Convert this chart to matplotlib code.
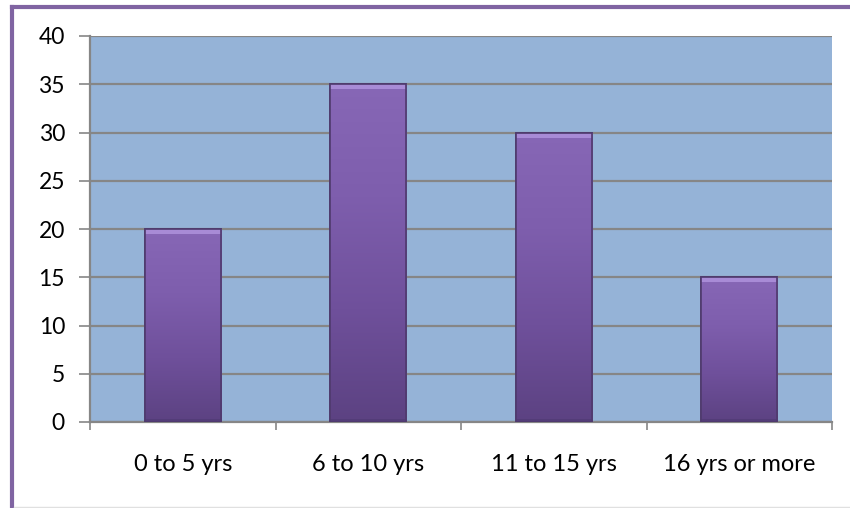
import numpy as np
import matplotlib
matplotlib.use("Agg")
import matplotlib.pyplot as plt
from matplotlib.lines import Line2D
from matplotlib.colors import LinearSegmentedColormap

# data
categories = ['0 to 5 yrs', '6 to 10 yrs', '11 to 15 yrs', '16 yrs or more']
values = [20, 35, 30, 15]

plt.rcParams['font.family'] = ['Lato', 'DejaVu Sans']

fig = plt.figure(figsize=(8.5, 5.08), dpi=100)
ax = fig.add_axes([90/850, 1 - 422/508, (832 - 90)/850, (422 - 36)/508])
ax.set_facecolor('#95b3d7')

x = np.arange(len(categories))
width = 0.41
bars = ax.bar(x, values, width=width, color='#7b5ca3', edgecolor='#4f3a6d',
              linewidth=1.2, zorder=3)

# vertical gradient on each bar, light bevel at the top
cmap = LinearSegmentedColormap.from_list('purp', ['#5c4282', '#6f509b', '#7e5ead', '#8767b6'])
grad = np.linspace(0, 1, 256).reshape(-1, 1)
bevel = 40 / 386 * 5  # about 5 px in data units
for b in bars:
    x0, y0 = b.get_x(), b.get_y()
    w, h = b.get_width(), b.get_height()
    im = ax.imshow(grad, cmap=cmap, origin='lower', aspect='auto',
                   extent=(x0, x0 + w, y0, y0 + h), zorder=3.5)
    im.set_clip_path(b)
    ax.add_patch(plt.Rectangle((x0, y0 + h - bevel), w, bevel, color='#a88bd6',
                               linewidth=0, zorder=3.8))
    ax.add_patch(plt.Rectangle((x0, y0), w, bevel * 0.6, color='#4e3872',
                               linewidth=0, alpha=0.6, zorder=3.8))
    ax.add_patch(plt.Rectangle((x0, y0), w, h, fill=False, edgecolor='#4f3a6d',
                               linewidth=1.2, zorder=4))

ax.set_xlim(-0.5, len(categories) - 0.5)
ax.set_ylim(0, 40)
ax.set_yticks(range(0, 41, 5))
ax.yaxis.grid(True, color='#868686', linewidth=1.6, zorder=1)
ax.set_axisbelow(True)

ax.set_xticks(np.arange(-0.5, len(categories), 1.0))
ax.set_xticklabels([])
ax.tick_params(axis='x', length=6, width=1.2, color='#868686', direction='out')
ax.tick_params(axis='y', length=8, width=1.2, color='#868686', labelsize=16.5, pad=10)
for i, c in enumerate(categories):
    ax.text(i, -0.11, c, transform=ax.get_xaxis_transform(), ha='center', va='center', fontsize=17)

for s in ['top', 'right']:
    ax.spines[s].set_visible(False)
for s in ['left', 'bottom']:
    ax.spines[s].set_color('#868686')
    ax.spines[s].set_linewidth(1.6)

# frame lines around the chart area
fig.add_artist(Line2D([12/850, 12/850], [0, 1 - 7/508], color='#8064a2', linewidth=3))
fig.add_artist(Line2D([12/850, 1], [1 - 7/508, 1 - 7/508], color='#8064a2', linewidth=3))
fig.add_artist(Line2D([14/850, 1], [1/508, 1/508], color='#e0e0e0', linewidth=1))

fig.savefig('out.png', dpi=100)
